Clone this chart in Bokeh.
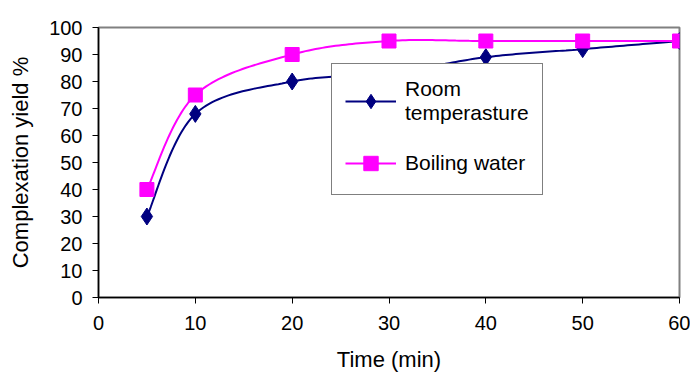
from bokeh.plotting import figure
from bokeh.models import Range1d, FixedTicker, Legend, LegendItem
from bokeh.embed import file_html
from bokeh.resources import INLINE
import numpy as np

time_min = [5, 10, 20, 30, 40, 50, 60]
room_temp = [30, 68, 80, 83, 89, 92, 95]
boiling_water = [40, 75, 90, 95, 95, 95, 95]
x_ticks = [0, 10, 20, 30, 40, 50, 60]
y_ticks = [0, 10, 20, 30, 40, 50, 60, 70, 80, 90, 100]

FONT = "Liberation Sans"


def smooth(xs, ys, n=30):
    """Excel-style smoothed line: cubic Bezier with Catmull-Rom control points."""
    xs = np.asarray(xs, float)
    ys = np.asarray(ys, float)
    px = np.concatenate([[xs[0]], xs, [xs[-1]]])
    py = np.concatenate([[ys[0]], ys, [ys[-1]]])
    outx, outy = [], []
    t = np.linspace(0, 1, n)
    for i in range(1, len(px) - 2):
        x0, y0 = px[i], py[i]
        x3, y3 = px[i + 1], py[i + 1]
        x1 = x0 + (px[i + 1] - px[i - 1]) / 6.0
        y1 = y0 + (py[i + 1] - py[i - 1]) / 6.0
        x2 = x3 - (px[i + 2] - px[i]) / 6.0
        y2 = y3 - (py[i + 2] - py[i]) / 6.0
        bx = (1 - t) ** 3 * x0 + 3 * (1 - t) ** 2 * t * x1 + 3 * (1 - t) * t ** 2 * x2 + t ** 3 * x3
        by = (1 - t) ** 3 * y0 + 3 * (1 - t) ** 2 * t * y1 + 3 * (1 - t) * t ** 2 * y2 + t ** 3 * y3
        outx.extend(bx.tolist())
        outy.extend(by.tolist())
    return outx, outy


p = figure(width=690, height=374, output_backend="svg", toolbar_location=None,
           x_range=Range1d(0, 60), y_range=Range1d(0, 100),
           min_border_left=98, min_border_right=11, min_border_top=27, min_border_bottom=77)
p.outline_line_color = "#808080"
p.outline_line_width = 2
p.xgrid.visible = False
p.ygrid.visible = False
p.background_fill_color = "white"
p.border_fill_color = "white"

for ax in (p.xaxis[0], p.yaxis[0]):
    ax.axis_line_color = "black"
    ax.axis_line_width = 1.5
    ax.major_tick_line_color = "black"
    ax.major_tick_line_width = 1
    ax.major_tick_out = 6
    ax.major_tick_in = 0
    ax.minor_tick_line_color = None
    ax.major_label_text_font = FONT
    ax.major_label_text_font_size = "20px"
    ax.major_label_text_color = "black"
    ax.axis_label_text_font = FONT
    ax.axis_label_text_font_size = "22px"
    ax.axis_label_text_font_style = "normal"
    ax.axis_label_text_color = "black"

p.xaxis.ticker = FixedTicker(ticks=x_ticks)
p.yaxis.ticker = FixedTicker(ticks=y_ticks)
p.xaxis.axis_label = "Time (min)"
p.yaxis.axis_label = "Complexation yield %"
p.xaxis.major_label_standoff = 12
p.yaxis.major_label_standoff = 10
p.xaxis.axis_label_standoff = 14
p.yaxis.axis_label_standoff = 13

NAVY = "#000080"
MAGENTA = "#FF00FF"

rx, ry = smooth(time_min, room_temp)
bx, by = smooth(time_min, boiling_water)

l1 = p.line(rx, ry, line_color=NAVY, line_width=2)
m1 = p.scatter(time_min, room_temp, marker="diamond", size=17, fill_color=NAVY, line_color=NAVY)
l2 = p.line(bx, by, line_color=MAGENTA, line_width=2)
m2 = p.scatter(time_min, boiling_water, marker="square", size=14, fill_color=MAGENTA, line_color=MAGENTA)

legend = Legend(items=[
    LegendItem(label="Room\ntemperasture", renderers=[l1, m1]),
    LegendItem(label="Boiling water", renderers=[l2, m2]),
], location=(233, 102))
legend.label_text_font = FONT
legend.label_text_font_size = "21px"
legend.label_text_color = "black"
legend.border_line_color = "black"
legend.border_line_width = 1
legend.background_fill_color = "white"
legend.background_fill_alpha = 1
legend.glyph_width = 51
legend.glyph_height = 36
legend.label_standoff = 9
legend.padding = 13
legend.margin = 0
legend.spacing = 20
p.add_layout(legend, "center")

open("out.html", "w").write(file_html(p, INLINE))
